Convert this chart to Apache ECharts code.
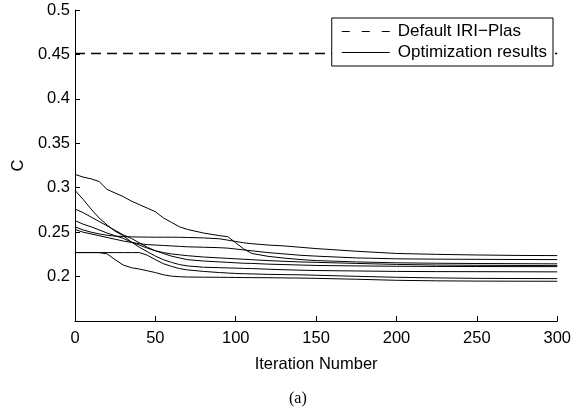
<!DOCTYPE html>
<html>
<head>
<meta charset="utf-8">
<script src="https://cdn.jsdelivr.net/npm/echarts@6/dist/echarts.min.js"></script>
<style>html,body{margin:0;padding:0;background:#fff}#c{width:574px;height:409px}</style>
</head>
<body>
<div id="c"></div>
<script>
const iterations = [0,5,10,15,20,25,30,35,40,45,50,55,60,65,70,80,90,95,100,105,110,120,130,140,150,175,200,225,250,275,300];
const runA = [0.315,0.312,0.310,0.307,0.298,0.294,0.290,0.285,0.281,0.277,0.273,0.266,0.261,0.256,0.253,0.249,0.246,0.245,0.238,0.231,0.226,0.2228,0.2208,0.2192,0.2180,0.2165,0.2155,0.2150,0.2147,0.2145,0.2143];
const runB = [0.297,0.287,0.276,0.266,0.258,0.251,0.246,0.239,0.233,0.228,0.223,0.219,0.216,0.2135,0.212,0.2105,0.2100,0.2097,0.2095,0.2092,0.2090,0.2083,0.2077,0.2072,0.2068,0.2063,0.2058,0.2056,0.2055,0.2054,0.2053];
const runC = [0.276,0.272,0.267,0.262,0.257,0.252,0.247,0.243,0.238,0.233,0.229,0.226,0.223,0.221,0.219,0.2175,0.2165,0.2160,0.2155,0.2150,0.2148,0.2140,0.2135,0.2130,0.2125,0.2120,0.2116,0.2114,0.2113,0.2112,0.2112];
const runD = [0.263,0.259,0.256,0.2525,0.249,0.246,0.243,0.239,0.2355,0.232,0.229,0.227,0.2255,0.2245,0.2235,0.222,0.221,0.2205,0.220,0.2195,0.219,0.218,0.2172,0.2165,0.216,0.2148,0.2137,0.2130,0.2127,0.2125,0.2123];
const runE = [0.256,0.2525,0.250,0.248,0.2465,0.2455,0.245,0.2447,0.2445,0.2444,0.2443,0.2443,0.2443,0.2442,0.2440,0.2435,0.2425,0.2410,0.2395,0.2380,0.2370,0.2355,0.2345,0.2330,0.2315,0.2285,0.2260,0.2250,0.2243,0.2238,0.2236];
const runF = [0.253,0.250,0.248,0.246,0.244,0.242,0.240,0.2385,0.237,0.236,0.2355,0.235,0.2345,0.234,0.2335,0.233,0.2325,0.232,0.231,0.230,0.229,0.227,0.2255,0.224,0.223,0.221,0.2200,0.2196,0.2194,0.2192,0.2191];
const runG = [0.227,0.227,0.227,0.227,0.227,0.227,0.227,0.227,0.227,0.224,0.219,0.2145,0.2115,0.209,0.2075,0.2058,0.2045,0.2040,0.2035,0.2032,0.2030,0.2025,0.2022,0.2020,0.2015,0.2003,0.1992,0.1985,0.1980,0.1978,0.1977];
const runH = [0.227,0.227,0.227,0.227,0.2255,0.219,0.213,0.210,0.2085,0.2065,0.2045,0.2020,0.2005,0.1998,0.1995,0.1993,0.1992,0.1991,0.1990,0.1989,0.1988,0.1987,0.1985,0.1983,0.1980,0.1970,0.1958,0.1952,0.1949,0.1948,0.1947];
const defaultX = [0,300];
const defaultC = [0.451,0.451];
const yTicks = {min:0.15,max:0.5,step:0.05};
const xTicks = {min:0,max:300,step:50};
const seriesNames = ['Default IRI\u2212Plas','Optimization results'];

const pair = (xs, ys) => xs.map((x,i)=>[x,ys[i]]);
const runs = [runA,runB,runC,runD,runE,runF,runG,runH];
const font = 'Liberation Sans, Arial, Helvetica, sans-serif';
const fs = 16.5;

const series = [{
  name: seriesNames[0], type:'line', data: pair(defaultX, defaultC), symbol:'none',
  itemStyle:{color:'#000'},
  lineStyle:{color:'#000',width:1.5,type:[10,6]}, silent:true, z:3
}];
runs.forEach((r)=>{
  series.push({name: seriesNames[1], type:'line', data: pair(iterations, r), symbol:'none',
    itemStyle:{color:'#000'},
    lineStyle:{color:'#000',width:1}, silent:true});
});

const chart = echarts.init(document.getElementById('c'), null, {renderer:'canvas'});
chart.setOption({
  animation:false,
  backgroundColor:'#fff',
  grid:{left:75,right:14,top:10,bottom:88,containLabel:false},
  legend:{
    data: [
      {name:seriesNames[0], icon:'path://M0,0h8v1h-8z M20,0h8v1h-8z M40,0h8v1h-8z'},
      {name:seriesNames[1], icon:'path://M0,0h48v1h-48z'}
    ],
    orient:'vertical', right:21, top:18,
    backgroundColor:'#fff', borderColor:'#000', borderWidth:1, borderRadius:0,
    padding:[5,6,5,10], itemGap:4, itemWidth:48, itemHeight:1.2,
    textStyle:{fontFamily:font,fontSize:17,color:'#000',padding:[0,0,0,3]}, selectedMode:false
  },
  xAxis:{
    type:'value', min:xTicks.min, max:xTicks.max, interval:xTicks.step,
    name:'Iteration Number', nameLocation:'middle', nameGap:35,
    nameTextStyle:{fontFamily:font,fontSize:fs,color:'#000'},
    axisLine:{lineStyle:{color:'#000',width:1}},
    axisTick:{inside:true,length:5,lineStyle:{color:'#000'}},
    axisLabel:{fontFamily:font,fontSize:fs,color:'#000',margin:9},
    splitLine:{show:false}
  },
  yAxis:{
    type:'value', min:yTicks.min, max:yTicks.max, interval:yTicks.step,
    name:'C', nameLocation:'middle', nameGap:48,
    nameTextStyle:{fontFamily:font,fontSize:fs,color:'#000'},
    axisLine:{show:true,lineStyle:{color:'#000',width:1}},
    axisTick:{show:true,inside:true,length:5,lineStyle:{color:'#000'}},
    axisLabel:{fontFamily:font,fontSize:fs,color:'#000',margin:5,
      formatter:(v)=> v < 0.17 ? '' : String(+v.toFixed(2))},
    splitLine:{show:false}
  },
  graphic:[{type:'text', left:289, top:391,
    style:{text:'(a)', font:'16px "Liberation Serif", "Times New Roman", serif', fill:'#000'}}],
  series
});
</script>
</body>
</html>
